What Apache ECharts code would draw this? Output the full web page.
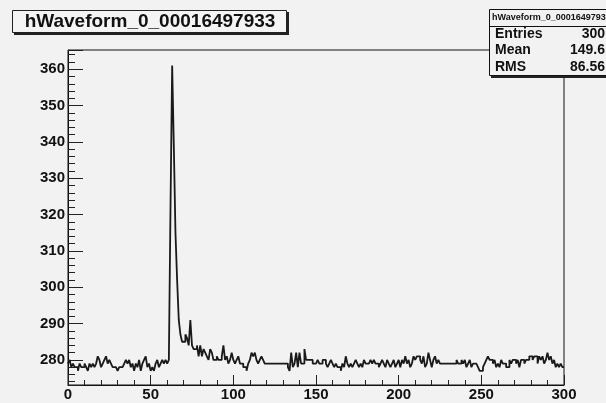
<!DOCTYPE html>
<html>
<head>
<meta charset="utf-8">
<script src="https://cdn.jsdelivr.net/npm/echarts@6/dist/echarts.min.js"></script>
<style>
  html, body { margin: 0; padding: 0; background: #f2f2f2; }
  #chart { width: 606px; height: 403px; }
</style>
</head>
<body>
<div id="chart"></div>
<script>
// histogram title and stats box texts
var histName = 'hWaveform_0_00016497933'
var statsHeader = 'hWaveform_0_0001649793'
var statsLabels = ['Entries', 'Mean', 'RMS']
var statsValues = ['300', '149.6', '86.56']

// axis ranges
var xRange = [0, 300]
var yRange = [273.1, 365.3]

// bin contents, one per bin (0..299)
var binValues = [
  279, 280, 278, 279, 278, 278, 277, 279, 278, 278,
  279, 278, 277, 279, 278, 279, 278, 279, 281, 280,
  278, 279, 280, 281, 279, 280, 279, 278, 278, 278,
  277, 278, 278, 278, 279, 280, 279, 280, 278, 279,
  277, 279, 278, 280, 277, 279, 280, 281, 278, 279,
  277, 278, 277, 279, 280, 278, 279, 280, 279, 280,
  279, 280, 322, 361, 339, 315, 302, 291, 287, 285,
  285, 287, 286, 284, 291, 284, 283, 283, 284, 281,
  284, 281, 283, 282, 281, 280, 283, 282, 280, 280,
  281, 280, 280, 281, 284, 280, 281, 279, 280, 282,
  280, 279, 280, 281, 279, 279, 278, 278, 277, 279,
  280, 282, 281, 282, 280, 279, 280, 281, 280, 279,
  279, 279, 279, 279, 279, 279, 279, 279, 279, 279,
  279, 279, 279, 278, 277, 282, 278, 279, 282, 278,
  282, 279, 279, 283, 280, 280, 280, 280, 279, 279,
  279, 280, 279, 279, 280, 280, 279, 278, 279, 280,
  279, 278, 279, 278, 278, 277, 279, 278, 281, 279,
  278, 279, 278, 279, 280, 279, 278, 279, 278, 280,
  279, 279, 279, 280, 279, 280, 279, 279, 278, 279,
  280, 279, 278, 280, 279, 278, 279, 280, 278, 279,
  280, 278, 280, 279, 281, 279, 280, 278, 279, 281,
  280, 281, 281, 280, 279, 281, 278, 279, 282, 280,
  278, 280, 281, 279, 280, 279, 279, 279, 279, 279,
  279, 279, 279, 279, 279, 280, 279, 279, 280, 279,
  280, 278, 279, 280, 278, 279, 279, 279, 278, 277,
  277, 278, 279, 280, 281, 280, 280, 279, 280, 278,
  279, 278, 280, 279, 279, 278, 278, 280, 279, 280,
  280, 279, 280, 278, 280, 280, 279, 280, 280, 281,
  281, 280, 281, 281, 279, 281, 280, 281, 279, 280,
  282, 280, 281, 279, 280, 278, 279, 278, 279, 278
]

var font = 'Liberation Sans, Arial, sans-serif'

// bin left edges + closing point at the right edge
var stepData = binValues.map(function (v, i) { return [i, v] })
stepData.push([binValues.length, binValues[binValues.length - 1]])

var chart = echarts.init(document.getElementById('chart'))

var statsText = []
statsLabels.forEach(function (lbl, i) {
  var y = 35 + i * 16.5
  statsText.push({
    type: 'text', left: 495, top: y - 8, z: 12,
    style: { text: lbl, font: 'bold 14px ' + font, fill: '#111' }
  })
  statsText.push({
    type: 'text', right: 1, top: y - 8, z: 12,
    style: { text: statsValues[i], font: 'bold 14px ' + font, fill: '#111' }
  })
})

chart.setOption({
  animation: false,
  backgroundColor: '#f2f2f2',
  grid: {
    left: 68,
    right: 42,
    top: 50,
    bottom: 18,
    show: true,
    backgroundColor: '#f2f2f2',
    borderColor: '#111',
    borderWidth: 1
  },
  xAxis: {
    type: 'value',
    min: xRange[0],
    max: xRange[1],
    interval: 50,
    axisLine: { show: true, lineStyle: { color: '#111', width: 1 } },
    axisTick: { show: true, inside: true, length: 10, lineStyle: { color: '#222' } },
    minorTick: { show: true, splitNumber: 5, length: 5, lineStyle: { color: '#222' } },
    splitLine: { show: false },
    axisLabel: {
      margin: 2,
      color: '#111',
      fontWeight: 'bold',
      fontSize: 15,
      fontFamily: font
    }
  },
  yAxis: {
    type: 'value',
    min: yRange[0],
    max: yRange[1],
    splitNumber: 9,
    axisLine: { show: true, lineStyle: { color: '#111', width: 1 } },
    axisTick: { show: true, inside: true, length: 15, lineStyle: { color: '#222' } },
    minorTick: { show: true, splitNumber: 5, length: 7, lineStyle: { color: '#222' } },
    splitLine: { show: false },
    axisLabel: {
      margin: 3,
      showMinLabel: false,
      showMaxLabel: false,
      color: '#111',
      fontWeight: 'bold',
      fontSize: 15,
      fontFamily: font,
      formatter: function (v) { return v % 10 === 0 ? String(v) : '' }
    }
  },
  series: [{
    type: 'line',
    step: 'end',
    data: stepData,
    symbol: 'none',
    lineStyle: { color: '#1a1a1a', width: 1.8 }
  }],
  graphic: [
    // title box with shadow
    { type: 'rect', shape: { x: 14, y: 12, width: 275, height: 23 }, style: { fill: '#222' }, z: 10 },
    { type: 'rect', shape: { x: 12.5, y: 10.5, width: 274, height: 22 },
      style: { fill: '#f4f4f4', stroke: '#222', lineWidth: 1 }, z: 11 },
    { type: 'text', x: 150, y: 22, z: 12,
      style: { text: histName, font: 'bold 19px ' + font, fill: '#111',
        textAlign: 'center', textVerticalAlign: 'middle' } },
    // stats box
    { type: 'rect', shape: { x: 491, y: 11, width: 130, height: 67 }, style: { fill: '#222' }, z: 10 },
    { type: 'rect', shape: { x: 489.5, y: 9.5, width: 130, height: 66 },
      style: { fill: '#f2f2f2', stroke: '#111', lineWidth: 1 }, z: 11 },
    { type: 'line', shape: { x1: 489.5, y1: 26.5, x2: 606, y2: 26.5 },
      style: { stroke: '#111', lineWidth: 1 }, z: 12 },
    { type: 'text', left: 492, top: 13, z: 12,
      style: { text: statsHeader, font: 'bold 9px ' + font, fill: '#111' } }
  ].concat(statsText)
})
</script>
</body>
</html>
